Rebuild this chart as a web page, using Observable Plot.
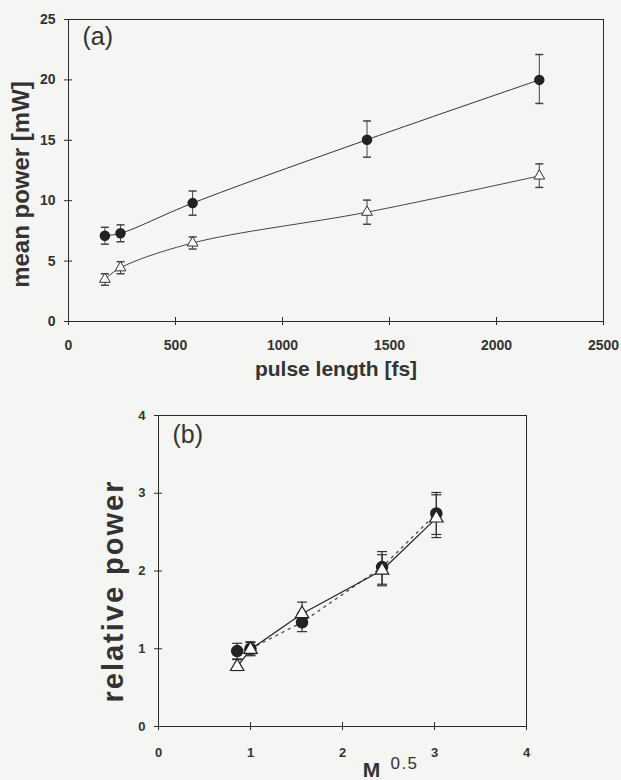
<!DOCTYPE html>
<html>
<head>
<meta charset="utf-8">
<script src="https://cdn.jsdelivr.net/npm/d3@7"></script>
<script src="https://cdn.jsdelivr.net/npm/@observablehq/plot@0.6"></script>
<style>
  html, body { margin: 0; padding: 0; background: #f5f5f3; }
  #wrap { position: relative; width: 621px; height: 780px; overflow: hidden; background: #f5f5f3; }
  #wrap svg { position: absolute; left: 0; font-family: "Liberation Sans", Arial, sans-serif; }
</style>
</head>
<body>
<div id="wrap"></div>
<script>
// ---- Panel (a) data ----
const pulseLength = [170, 243, 580, 1395, 2200];
const powerCircle = [7.1, 7.3, 9.8, 15.05, 20.0];
const powerCircleLo = [6.4, 6.6, 8.8, 13.6, 18.05];
const powerCircleHi = [7.8, 8.0, 10.8, 16.6, 22.1];
const powerTri = [3.5, 4.45, 6.5, 9.05, 12.05];
const powerTriLo = [3.0, 3.95, 6.0, 8.05, 11.1];
const powerTriHi = [3.95, 4.95, 7.0, 10.05, 13.05];
const xTicksA = [0, 500, 1000, 1500, 2000, 2500];
const yTicksA = [0, 5, 10, 15, 20, 25];

// ---- Panel (b) data ----
const mHalf = [0.855, 1.0, 1.56, 2.43, 3.02];
const relCircle = [0.97, 1.0, 1.34, 2.05, 2.74];
const relCircleLo = [0.87, 0.91, 1.22, 1.83, 2.47];
const relCircleHi = [1.07, 1.09, 1.46, 2.25, 2.98];
const relTri = [0.77, 0.99, 1.45, 2.01, 2.68];
const relTriLo = [0.72, 0.92, 1.33, 1.81, 2.43];
const relTriHi = [0.86, 1.08, 1.60, 2.21, 3.01];
const xTicksB = [0, 1, 2, 3, 4];
const yTicksB = [0, 1, 2, 3, 4];

const ink = "#2a2a2a";
const capSymbol = (half) => ({
  draw(ctx) { ctx.moveTo(-half, 0); ctx.lineTo(half, 0); }
});

function rows(xs, ys, lo, hi) {
  return xs.map((x, i) => ({x, y: ys[i], lo: lo[i], hi: hi[i]}));
}

const A_circ = rows(pulseLength, powerCircle, powerCircleLo, powerCircleHi);
const A_tri = rows(pulseLength, powerTri, powerTriLo, powerTriHi);
const B_circ = rows(mHalf, relCircle, relCircleLo, relCircleHi);
const B_tri = rows(mHalf, relTri, relTriLo, relTriHi);

const fmt = d => String(d);

function axes(xTicks, yTicks, fontSize, xPad, yPad) {
  return [
    Plot.axisX({ticks: xTicks, tickSize: 8, dy: -4, tickFormat: () => "", stroke: ink, label: null}),
    Plot.axisY({ticks: yTicks, tickSize: 8, dx: 4, tickFormat: () => "", stroke: ink, label: null}),
    Plot.axisX({ticks: xTicks, tickSize: 0, tickPadding: xPad, tickFormat: fmt, fontSize, fontWeight: "bold", fill: "#333", label: null}),
    Plot.axisY({ticks: yTicks, tickSize: 0, tickPadding: yPad, tickFormat: fmt, fontSize, fontWeight: "bold", fill: "#333", label: null}),
    Plot.frame({stroke: ink, strokeWidth: 1})
  ];
}

// ---- Panel (a) ----
const plotA = Plot.plot({
  width: 621, height: 390,
  marginLeft: 68, marginRight: 18, marginTop: 19, marginBottom: 69,
  x: {domain: [0, 2500]},
  y: {domain: [0, 25]},
  style: {background: "transparent", overflow: "visible"},
  marks: [
    ...axes(xTicksA, yTicksA, 14, 19, 13),
    Plot.line(A_circ, {x: "x", y: "y", curve: "catmull-rom", stroke: "#333", strokeWidth: 1}),
    Plot.line(A_tri, {x: "x", y: "y", curve: "catmull-rom", stroke: "#444", strokeWidth: 1}),
    Plot.ruleX(A_circ, {x: "x", y1: "lo", y2: "hi", stroke: "#444", strokeWidth: 1}),
    Plot.ruleX(A_tri, {x: "x", y1: "lo", y2: "hi", stroke: "#444", strokeWidth: 1}),
    Plot.dot(A_circ, {x: "x", y: "lo", symbol: capSymbol(4), stroke: "#444", r: 4}),
    Plot.dot(A_circ, {x: "x", y: "hi", symbol: capSymbol(4), stroke: "#444", r: 4}),
    Plot.dot(A_tri, {x: "x", y: "lo", symbol: capSymbol(4), stroke: "#444", r: 4}),
    Plot.dot(A_tri, {x: "x", y: "hi", symbol: capSymbol(4), stroke: "#444", r: 4}),
    Plot.dot(A_circ, {x: "x", y: "y", r: 4.5, fill: "#222", stroke: "#222"}),
    Plot.dot(A_tri, {x: "x", y: "y", r: 4, symbol: "triangle", fill: "#fafafa", stroke: "#333", strokeWidth: 1}),
    Plot.text(["(a)"], {frameAnchor: "top-left", dx: 14, dy: 8, text: d => d, fontSize: 25, textAnchor: "start", lineAnchor: "top", fill: "#333"}),
    Plot.text(["mean power [mW]"], {frameAnchor: "left", dx: -47, dy: 14, rotate: -90, text: d => d, fontSize: 24, fontWeight: "bold", textAnchor: "middle", lineAnchor: "middle", fill: "#333"}),
    Plot.text(["pulse length [fs]"], {frameAnchor: "bottom", dy: 48, text: d => d, fontSize: 21, fontWeight: "bold", textAnchor: "middle", lineAnchor: "middle", fill: "#333"})
  ]
});
plotA.style.top = "0px";

// ---- Panel (b) ----
const plotB = Plot.plot({
  width: 621, height: 390,
  marginLeft: 158, marginRight: 95, marginTop: 25, marginBottom: 54,
  x: {domain: [0, 4]},
  y: {domain: [0, 4]},
  style: {background: "transparent", overflow: "visible"},
  marks: [
    ...axes(xTicksB, yTicksB, 13, 21, 13),
    Plot.line(B_circ, {x: "x", y: "y", stroke: "#555", strokeWidth: 1.4, strokeDasharray: "2,5"}),
    Plot.line(B_tri, {x: "x", y: "y", stroke: "#222", strokeWidth: 1.2}),
    Plot.ruleX(B_circ, {x: "x", y1: "lo", y2: "hi", stroke: "#333", strokeWidth: 1.2}),
    Plot.ruleX(B_tri, {x: "x", y1: "lo", y2: "hi", stroke: "#333", strokeWidth: 1.2}),
    Plot.dot(B_circ, {x: "x", y: "lo", symbol: capSymbol(5), stroke: "#333", strokeWidth: 1.2, r: 5}),
    Plot.dot(B_circ, {x: "x", y: "hi", symbol: capSymbol(5), stroke: "#333", strokeWidth: 1.2, r: 5}),
    Plot.dot(B_tri, {x: "x", y: "lo", symbol: capSymbol(5), stroke: "#333", strokeWidth: 1.2, r: 5}),
    Plot.dot(B_tri, {x: "x", y: "hi", symbol: capSymbol(5), stroke: "#333", strokeWidth: 1.2, r: 5}),
    Plot.dot(B_circ, {x: "x", y: "y", r: 5.5, fill: "#222", stroke: "#222"}),
    Plot.dot(B_tri, {x: "x", y: "y", r: 5, symbol: "triangle", fill: "#fafafa", stroke: "#222", strokeWidth: 1.2}),
    Plot.text(["(b)"], {frameAnchor: "top-left", dx: 14, dy: 10, text: d => d, fontSize: 25, textAnchor: "start", lineAnchor: "top", fill: "#333"}),
    Plot.text(["relative power"], {frameAnchor: "left", dx: -45, dy: 20, rotate: -90, text: d => d, fontSize: 29, fontWeight: "bold", textAnchor: "middle", lineAnchor: "middle", fill: "#333"}),
    Plot.text(["M"], {frameAnchor: "bottom", dx: 29, dy: 44, text: d => d, fontSize: 21, fontWeight: "bold", textAnchor: "middle", lineAnchor: "middle", fill: "#333"}),
    Plot.text(["0.5"], {frameAnchor: "bottom", dx: 62, dy: 37, text: d => d, fontSize: 17, textAnchor: "middle", lineAnchor: "middle", fill: "#333"})
  ]
});
plotB.style.top = "390px";

// letter spacing for the wide labels of panel (b)
plotB.querySelectorAll("text").forEach(t => {
  if (t.textContent === "relative power") t.style.letterSpacing = "2px";
  if (t.textContent === "0.5") t.style.letterSpacing = "1.5px";
});

const wrap = document.getElementById("wrap");
wrap.appendChild(plotA);
wrap.appendChild(plotB);
</script>
</body>
</html>
